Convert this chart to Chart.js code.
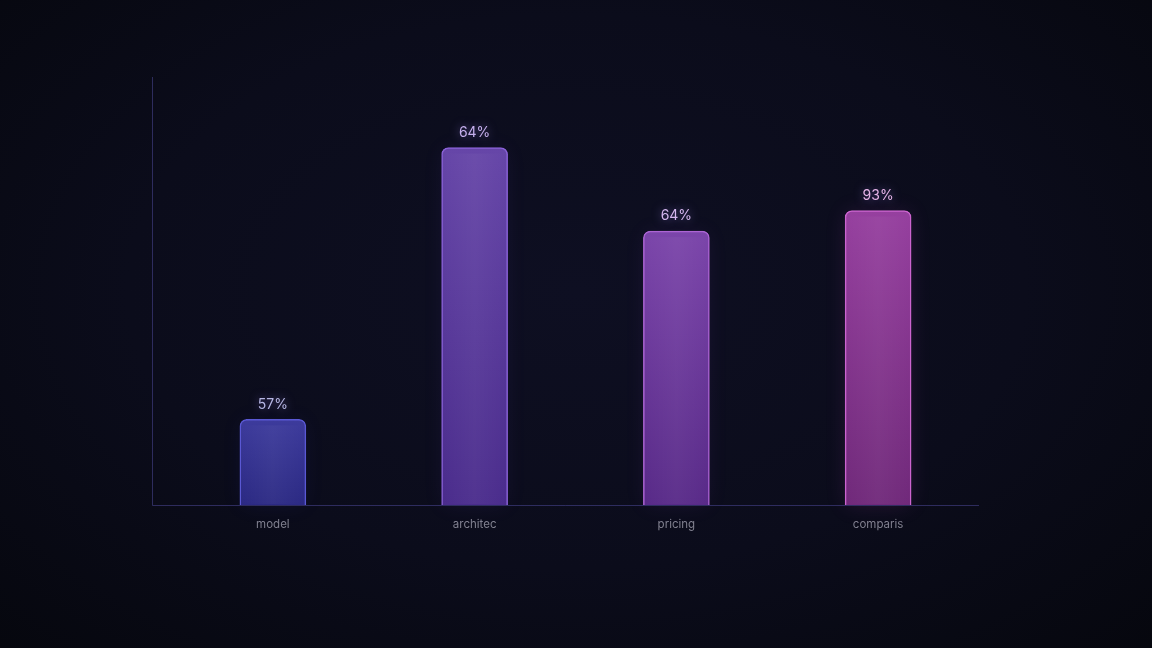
<!DOCTYPE html>
<html>
<head>
<meta charset="utf-8">
<script src="https://cdn.jsdelivr.net/npm/chart.js@4"></script>
<style>
  html, body { margin: 0; padding: 0; }
  body {
    width: 1152px; height: 648px; overflow: hidden;
    background: radial-gradient(ellipse at 50% 45%, #0e0f22 0%, #0b0c1b 55%, #06070e 100%);
  }
  #wrap { width: 1152px; height: 648px; }
</style>
</head>
<body>
<div id="wrap"><canvas id="chart"></canvas></div>
<script>
const categories = ["model", "architec", "pricing", "comparis"];
const values = [20, 83.5, 64, 68.8];
const valueLabels = ["57%", "64%", "64%", "93%"];

const topColors = ["#3d3b9c", "#6646a8", "#7b45aa", "#96409f"];
const bottomColors = ["#2b2983", "#4a2c8c", "#582a88", "#70297a"];
const borderColors = ["#5a58d4", "#8a61d8", "#ac64d4", "#cc64cf"];
const glowColors = ["rgba(80,78,220,0.3)", "rgba(130,90,220,0.3)", "rgba(170,90,220,0.3)", "rgba(210,80,210,0.38)"];
const labelColors = ["#b6b6e4", "#c6b0ee", "#d4b6ee", "#e6b4e8"];

function barGradient(context) {
  const chart = context.chart;
  const i = context.dataIndex;
  if (!chart.chartArea || !chart.scales.y) return topColors[i];
  const y = chart.scales.y;
  const top = y.getPixelForValue(values[i]);
  const bottom = y.getPixelForValue(0);
  const g = chart.ctx.createLinearGradient(0, top, 0, bottom);
  g.addColorStop(0, topColors[i]);
  g.addColorStop(1, bottomColors[i]);
  return g;
}

const glowPlugin = {
  id: "glow",
  beforeDatasetsDraw(chart) {
    const ctx = chart.ctx;
    chart.getDatasetMeta(0).data.forEach((bar, i) => {
      ctx.save();
      ctx.shadowColor = glowColors[i];
      ctx.shadowBlur = 22;
      ctx.fillStyle = glowColors[i];
      const w = bar.width;
      ctx.fillRect(bar.x - w / 2 + 2, bar.y + 2, w - 4, bar.base - bar.y - 2);
      ctx.restore();
    });
  },
  afterDatasetsDraw(chart) {
    const ctx = chart.ctx;
    chart.getDatasetMeta(0).data.forEach((bar, i) => {
      const w = bar.width;
      const left = bar.x - w / 2 + 1.5;
      const sheen = ctx.createLinearGradient(left, 0, left + w - 3, 0);
      sheen.addColorStop(0, "rgba(255,255,255,0)");
      sheen.addColorStop(0.5, "rgba(255,255,255,0.04)");
      sheen.addColorStop(1, "rgba(255,255,255,0)");
      ctx.save();
      ctx.fillStyle = sheen;
      ctx.fillRect(left, bar.y + 6, w - 3, bar.base - bar.y - 7);
      ctx.restore();

      ctx.save();
      ctx.font = "400 14px Inter, 'Noto Sans', sans-serif";
      ctx.textAlign = "center";
      ctx.textBaseline = "middle";
      ctx.shadowColor = "rgba(170,140,255,0.55)";
      ctx.shadowBlur = 10;
      ctx.fillStyle = labelColors[i];
      ctx.fillText(valueLabels[i], bar.x, bar.y - 15);
      ctx.restore();
    });

    // axis lines
    const a = chart.chartArea;
    const axisLeft = a.left - 20;
    ctx.save();
    ctx.strokeStyle = "rgba(70,66,140,0.6)";
    ctx.lineWidth = 1;
    ctx.beginPath();
    ctx.moveTo(axisLeft + 0.5, a.top);
    ctx.lineTo(axisLeft + 0.5, a.bottom + 0.5);
    ctx.lineTo(a.right, a.bottom + 0.5);
    ctx.stroke();
    ctx.restore();
  }
};

new Chart(document.getElementById("chart"), {
  type: "bar",
  data: {
    labels: categories,
    datasets: [{
      data: values,
      backgroundColor: barGradient,
      borderColor: borderColors,
      borderWidth: 1.5,
      borderRadius: { topLeft: 7, topRight: 7, bottomLeft: 0, bottomRight: 0 },
      borderSkipped: "bottom",
      barThickness: 66
    }]
  },
  options: {
    responsive: true,
    maintainAspectRatio: false,
    animation: false,
    layout: { padding: { left: 172, right: 173, top: 77, bottom: 113 } },
    plugins: {
      legend: { display: false },
      tooltip: { enabled: false }
    },
    scales: {
      x: {
        grid: { display: false, drawTicks: false },
        border: { display: false },
        ticks: {
          color: "#80808f",
          padding: 13,
          font: { family: "Inter, 'Noto Sans', sans-serif", size: 11.5 }
        },
        afterFit(scale) { scale.height = 30; }
      },
      y: {
        display: false,
        min: 0,
        max: 100
      }
    }
  },
  plugins: [glowPlugin]
});
</script>
</body>
</html>
